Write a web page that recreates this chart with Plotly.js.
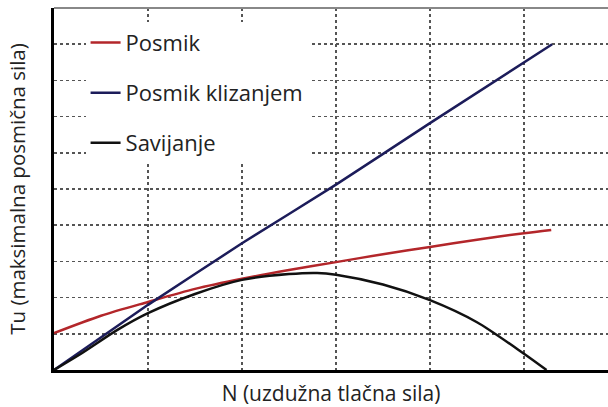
<!DOCTYPE html>
<html>
<head>
<meta charset="utf-8">
<script src="https://cdn.plot.ly/plotly-3.0.1.min.js"></script>
<style>html,body{margin:0;padding:0;background:#fff;}#chart{width:608px;height:407px;}</style>
</head>
<body>
<div id="chart"></div>
<script>
// Data (arbitrary units, no tick labels shown)
const posmikX = [0, 0.5, 1, 1.5, 2, 2.5, 3, 3.5, 4, 4.5, 5, 5.29];
const posmikY = [1.02, 1.5, 1.88, 2.24, 2.52, 2.76, 2.98, 3.2, 3.4, 3.6, 3.78, 3.87];

const klizX = [0, 1, 2, 3, 4, 5.3];
const klizY = [0, 1.8, 3.5, 5.12, 6.82, 9.0];

const savX = [0, 0.3, 0.67, 1, 1.5, 2, 2.5, 2.8, 3, 3.5, 4, 4.5, 5, 5.24];
const savY = [0, 0.47, 1.1, 1.57, 2.1, 2.49, 2.65, 2.68, 2.63, 2.36, 1.93, 1.32, 0.45, 0];

const names = ['Posmik', 'Posmik klizanjem', 'Savijanje'];
const xTitle = 'N (uzdužna tlačna sila)';
const yTitle = 'Tu (maksimalna posmična sila)';

const font = '"Open Sans", "Noto Sans", sans-serif';

const traces = [
  {x: posmikX, y: posmikY, name: names[0], legendgroup: 'a', mode: 'lines',
   line: {color: '#b3262a', width: 2.5, shape: 'spline', smoothing: 0.8}},
  {x: klizX, y: klizY, name: names[1], legendgroup: 'b', mode: 'lines',
   line: {color: '#1c1c5a', width: 2.5, shape: 'spline', smoothing: 0.3}},
  {x: savX, y: savY, name: names[2], legendgroup: 'c', mode: 'lines',
   line: {color: '#111111', width: 2.5, shape: 'spline', smoothing: 0.8}}
];

const layout = {
  width: 608, height: 407,
  margin: {l: 54, r: 0, t: 8, b: 37},
  paper_bgcolor: '#ffffff', plot_bgcolor: '#ffffff',
  font: {family: font, color: '#222'},
  showlegend: true,
  legend: {x: 0.057, y: 0.962, xanchor: 'left', yanchor: 'top',
           bgcolor: '#ffffff', borderwidth: 0, traceorder: 'grouped',
           tracegroupgap: 18.5, font: {family: font, size: 22, color: '#222'}},
  xaxis: {range: [0, 5.894], dtick: 1, tick0: 0, showticklabels: false, ticks: '',
          showgrid: true, gridcolor: '#555', griddash: 'dot', gridwidth: 1.5,
          zeroline: false, showline: true, linecolor: '#000', linewidth: 2.5,
          title: {text: xTitle, font: {family: font, size: 21, color: '#222'}, standoff: 15}},
  yaxis: {range: [0, 10], dtick: 1, tick0: 0, showticklabels: false, ticks: '',
          showgrid: true, gridcolor: '#555', griddash: 'dot', gridwidth: 1.5,
          zeroline: false, showline: true, linecolor: '#000', linewidth: 3,
          title: {text: yTitle, font: {family: font, size: 20.5, color: '#222'}, standoff: 20}},
  shapes: [{type: 'line', xref: 'paper', yref: 'paper', x0: 0, x1: 1, y0: 1, y1: 1,
            line: {color: '#888', width: 2}}]
};

Plotly.newPlot('chart', traces, layout, {displayModeBar: false, staticPlot: true});
</script>
</body>
</html>
